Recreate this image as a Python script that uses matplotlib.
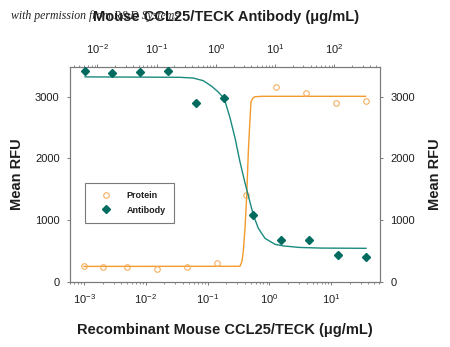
import matplotlib
matplotlib.use("Agg")
import matplotlib.pyplot as plt
from matplotlib.lines import Line2D

# data
protein_conc = [0.001, 0.002, 0.005, 0.015, 0.046, 0.14, 0.42, 1.3, 3.9, 12, 36]
protein_rfu = [259, 243, 233, 201, 243, 298, 1405, 3160, 3058, 2901, 2934]
antibody_conc = [0.0062, 0.0175, 0.053, 0.155, 0.46, 1.39, 4.2, 12.6, 38, 114, 343]
antibody_rfu = [3415, 3378, 3404, 3415, 2891, 2972, 1081, 681, 676, 433, 405]

# fitted curves
protein_fit_x = [0.001, 0.334, 0.36, 0.378, 0.403, 0.43, 0.456, 0.486, 0.504, 0.54, 0.585, 0.75, 36]
protein_fit_y = [248, 250, 330, 490, 865, 1405, 2107, 2648, 2917, 2975, 2998, 3005, 3005]
antibody_fit_x = [0.0062, 0.249, 0.417, 0.615, 0.853, 1.10, 1.39, 1.74, 2.11, 2.56, 3.11, 3.54,
                  4.30, 5.22, 6.76, 9.97, 13.8, 26, 60, 343]
antibody_fit_y = [3320, 3313, 3301, 3258, 3167, 3075, 2966, 2653, 2329, 1940, 1600, 1390,
                  1081, 865, 703, 606, 580, 555, 545, 541]

yticks = [0, 1000, 2000, 3000]

font = "Liberation Sans"
plt.rcParams["font.family"] = [font, "DejaVu Sans"]
plt.rcParams["mathtext.fontset"] = "custom"
plt.rcParams["mathtext.rm"] = font
plt.rcParams["mathtext.it"] = font + ":italic"
plt.rcParams["mathtext.bf"] = font + ":bold"

orange = "#F39A2B"
orange_pt = "#F3AE62"
teal = "#1B8A7E"
teal_pt = "#006B5E"
grey = "#7A7A7A"
txt = "#1E1E1E"

W, H = 450, 347
fig = plt.figure(figsize=(4.5, 3.47), dpi=100)
ax = fig.add_axes([70 / W, 1 - 281.7 / H, 310 / W, 215 / H])
ax.set_xscale("log")
ax.set_xlim(10 ** -3.227, 10 ** 1.79)
ax.set_ylim(0, 3485)

ax.plot(protein_fit_x, protein_fit_y, color=orange, lw=1.0, zorder=2)
ax.plot(protein_conc, protein_rfu, ls="none", marker="o", ms=4, mfc="none",
        mec=orange_pt, mew=0.8, zorder=3)

ax2 = ax.twiny()
ax2.set_xscale("log")
ax2.set_xlim(10 ** -2.461, 10 ** 2.771)
ax2.plot(antibody_fit_x, antibody_fit_y, color=teal, lw=1.0, zorder=2)
ax2.plot(antibody_conc, antibody_rfu, ls="none", marker="D", ms=4, color=teal_pt, zorder=3)

ax.set_yticks(yticks)
ax.set_yticklabels([str(v) for v in yticks])
ax.tick_params(axis="y", which="both", left=True, right=True, labelleft=True, labelright=True,
               direction="out", length=2.5, width=0.7, color=grey, pad=5, labelsize=8,
               labelcolor=txt)
for a in (ax, ax2):
    a.tick_params(axis="x", which="major", direction="out", length=2.5, width=0.7, color=grey,
                  pad=5, labelsize=8, labelcolor=txt)
    a.tick_params(axis="x", which="minor", direction="out", length=1.5, width=0.6, color=grey)
    for s in a.spines.values():
        s.set_color(grey)
        s.set_linewidth(0.8)

h1 = Line2D([], [], ls="none", marker="o", ms=4, mfc="none", mec=orange_pt, mew=0.8)
h2 = Line2D([], [], ls="none", marker="D", ms=4, color=teal_pt)
leg = ax2.legend([h1, h2], ["Protein", "Antibody"], loc="upper left",
                 bbox_to_anchor=(0.048, 0.459), fancybox=False, framealpha=1,
                 edgecolor=grey, prop={"weight": "bold", "size": 6.5},
                 handlelength=2.8, handletextpad=0.9, borderpad=0.9, labelspacing=0.6,
                 borderaxespad=0)
leg.get_frame().set_linewidth(0.8)
for t in leg.get_texts():
    t.set_color(txt)

fig.text(226 / W, 1 - 17 / H, "Mouse CCL25/TECK Antibody (\u03bcg/mL)", ha="center", va="center",
         fontsize=10.5, fontweight="bold", color=txt)
fig.text(225 / W, 1 - 330 / H, "Recombinant Mouse CCL25/TECK (\u03bcg/mL)", ha="center",
         va="center", fontsize=10.5, fontweight="bold", color=txt)
fig.text(17 / W, 1 - 174 / H, "Mean RFU", rotation=90, ha="center", va="center",
         fontsize=10.5, fontweight="bold", color=txt)
fig.text(435 / W, 1 - 174 / H, "Mean RFU", rotation=90, ha="center", va="center",
         fontsize=10.5, fontweight="bold", color=txt)
fig.text(11 / W, 1 - 16 / H, "with permission from R&D Systems", ha="left", va="center",
         fontsize=8.5, style="italic", family=["Liberation Serif", "DejaVu Serif"], color="#222222")

fig.savefig("out.png", dpi=100)
